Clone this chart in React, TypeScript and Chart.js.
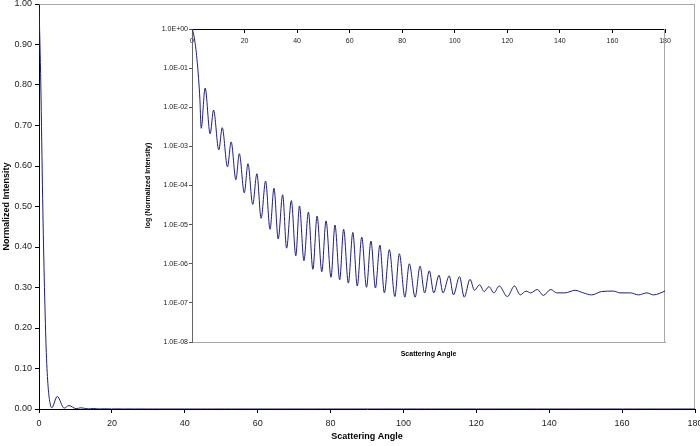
import React, { useEffect, useRef } from "react";
import { Chart, registerables } from "chart.js";

Chart.register(...registerables);

// Scattering angle (degrees)
const angles = [
  0, 0.5, 1.0, 1.5, 2.0, 2.5, 3.0, 3.5,
  5.0, 6.9, 8.2, 10.2, 11.5, 13.5, 14.9, 16.7, 18.0, 19.9,
  21.3, 23.1, 24.7, 26.3, 28.0, 29.7, 31.2, 32.8, 34.5, 36.0,
  37.8, 39.5, 40.9, 42.6, 44.3, 46.0, 47.6, 49.4, 51.0, 52.9,
  54.4, 56.2, 57.7, 59.5, 61.2, 62.9, 64.6, 66.4, 68.1, 69.8,
  71.5, 73.2, 75.1, 77.2, 78.9, 81.0, 82.7, 84.9, 86.8, 88.5,
  90.3, 92.0, 94.0, 95.5, 97.9, 99.5, 101.8, 103.6, 105.8, 107.5,
  109.4, 111.2, 113.0, 114.9, 116.9, 120.0, 122.7, 124.9, 127.1, 128.9,
  131.4, 133.7, 136.5, 138.8, 141.9, 145.8, 148.9, 152.1, 155.9, 160.4,
  162.9, 166.8, 169.9, 173.1, 175.6, 180,
];

// Normalized intensity at each angle
const intensity = [
  1.0, 0.8, 0.52, 0.3, 0.14, 0.055, 0.016, 0.0029,
  0.031, 0.0021, 0.0085, 0.00081, 0.003, 0.0003, 0.0013, 0.00014, 0.00065, 6.5e-5,
  3.6e-4, 3.3e-5, 2.0e-4, 1.45e-5, 1.3e-4, 7.6e-6, 8.5e-5, 4.3e-6, 5.8e-5, 2.5e-6,
  4.1e-5, 1.6e-6, 3.0e-5, 1.2e-6, 2.1e-5, 7.2e-7, 1.65e-5, 6.3e-7, 1.25e-5, 4.5e-7,
  9.8e-6, 3.9e-7, 7.6e-6, 3.2e-7, 6.3e-6, 2.7e-7, 4.8e-6, 2.5e-7, 3.8e-6, 2.4e-7,
  3.0e-6, 1.8e-7, 2.3e-6, 1.45e-7, 1.8e-6, 1.4e-7, 1.0e-6, 1.4e-7, 8.7e-7, 1.8e-7,
  6.6e-7, 1.8e-7, 5.1e-7, 1.8e-7, 4.9e-7, 1.6e-7, 4.7e-7, 1.4e-7, 4.0e-7, 2.1e-7,
  2.9e-7, 1.95e-7, 2.6e-7, 1.8e-7, 2.7e-7, 1.45e-7, 2.7e-7, 1.6e-7, 2.0e-7, 1.8e-7,
  2.2e-7, 1.55e-7, 2.2e-7, 1.8e-7, 1.8e-7, 2.1e-7, 1.8e-7, 1.6e-7, 1.95e-7, 2.0e-7,
  1.8e-7, 1.8e-7, 1.6e-7, 1.8e-7, 1.6e-7, 2.0e-7,
];

const mainYTickLabels = [
  "0.00", "0.10", "0.20", "0.30", "0.40", "0.50",
  "0.60", "0.70", "0.80", "0.90", "1.00",
];

const insetYTickValues = [1e-8, 1e-7, 1e-6, 1e-5, 1e-4, 1e-3, 1e-2, 1e-1, 1];
const insetYTickLabels = [
  "1.0E-08", "1.0E-07", "1.0E-06", "1.0E-05", "1.0E-04",
  "1.0E-03", "1.0E-02", "1.0E-01", "1.0E+00",
];

const FONT = "'Liberation Sans', Arial, sans-serif";
const NARROW = "'Liberation Sans Narrow', 'Arial Narrow', 'Liberation Sans', Arial, sans-serif";
const LINE = "#1e1e7a";
const TEXT = "#222";

const framePlugin = {
  id: "frame",
  beforeDatasetsDraw(chart: any, _args: any, opts: any) {
    const { ctx, chartArea } = chart;
    const { left, top, right, bottom } = chartArea;
    ctx.save();
    ctx.strokeStyle = opts.color || "#a6a6a6";
    ctx.lineWidth = 1;
    ctx.beginPath();
    if (opts.top) {
      ctx.moveTo(left, Math.round(top) + 0.5);
      ctx.lineTo(right, Math.round(top) + 0.5);
    }
    if (opts.right) {
      ctx.moveTo(Math.round(right) - 0.5, top);
      ctx.lineTo(Math.round(right) - 0.5, bottom);
    }
    ctx.stroke();
    ctx.restore();
  },
};

export default function App() {
  const mainRef = useRef<HTMLCanvasElement>(null);
  const insetRef = useRef<HTMLCanvasElement>(null);

  useEffect(() => {
    const mainPoints = angles.map((a, i) => ({ x: a, y: intensity[i] }));
    const insetPoints = angles.map((a, i) => ({ x: a, y: intensity[i] }));

    const main = new Chart(mainRef.current as HTMLCanvasElement, {
      type: "line",
      data: {
        datasets: [
          {
            data: mainPoints,
            borderColor: LINE,
            borderWidth: 1,
            pointRadius: 0,
            fill: false,
            cubicInterpolationMode: "monotone",
          },
        ],
      },
      plugins: [framePlugin],
      options: {
        responsive: false,
        animation: false,
        devicePixelRatio: 1,
        layout: { padding: { top: 4, right: 5, left: 0, bottom: 0 } },
        plugins: {
          legend: { display: false },
          tooltip: { enabled: false },
          frame: { top: true, right: true, color: "#a8a8a8" },
        } as any,
        scales: {
          x: {
            type: "linear",
            min: 0,
            max: 180,
            ticks: {
              stepSize: 20,
              font: { family: FONT, size: 9 },
              color: TEXT,
              padding: 5,
              maxRotation: 0,
              autoSkip: false,
            },
            grid: { drawOnChartArea: false, drawTicks: true, tickLength: 4, tickColor: "#000" },
            border: { color: "#000", width: 1 },
            title: {
              display: true,
              text: "Scattering Angle",
              font: { family: FONT, size: 9, weight: "bold" },
              color: "#000",
              padding: { top: 0, bottom: 4 },
            },
            afterFit: (s: any) => {
              s.height = 37;
              s.paddingLeft = 0;
              s.paddingRight = 0;
            },
          },
          y: {
            type: "linear",
            min: 0,
            max: 1,
            ticks: {
              stepSize: 0.1,
              font: { family: FONT, size: 9 },
              color: TEXT,
              padding: 3,
              callback: (_v: any, i: number) => mainYTickLabels[i],
            },
            grid: { drawOnChartArea: false, drawTicks: true, tickLength: 4, tickColor: "#000" },
            border: { color: "#000", width: 1 },
            title: {
              display: true,
              text: "Normalized Intensity",
              font: { family: FONT, size: 9, weight: "bold" },
              color: "#000",
              padding: { top: 1, bottom: 0 },
            },
            afterFit: (s: any) => {
              s.width = 39;
              s.paddingTop = 0;
              s.paddingBottom = 0;
            },
          },
        },
      } as any,
    });

    const inset = new Chart(insetRef.current as HTMLCanvasElement, {
      type: "line",
      data: {
        datasets: [
          {
            data: insetPoints,
            xAxisID: "x",
            yAxisID: "y",
            borderColor: LINE,
            borderWidth: 1,
            pointRadius: 0,
            fill: false,
            cubicInterpolationMode: "monotone",
          },
        ],
      },
      plugins: [framePlugin],
      options: {
        responsive: false,
        animation: false,
        devicePixelRatio: 1,
        layout: { padding: { top: 7, right: 15, left: 0, bottom: 0 } },
        plugins: {
          legend: { display: false },
          tooltip: { enabled: false },
          frame: { right: true, color: "#a8a8a8" },
        } as any,
        scales: {
          x: {
            type: "linear",
            position: "bottom",
            min: 0,
            max: 180,
            ticks: { display: false },
            grid: { drawOnChartArea: false, drawTicks: false },
            border: { color: "#a8a8a8", width: 1 },
            title: {
              display: true,
              text: "Scattering Angle",
              font: { family: FONT, size: 7, weight: "bold" },
              color: "#000",
              padding: { top: 0, bottom: 9 },
            },
            afterFit: (s: any) => {
              s.height = 25;
              s.paddingLeft = 0;
              s.paddingRight = 0;
            },
          },
          xTop: {
            type: "linear",
            axis: "x",
            position: { y: 1 },
            min: 0,
            max: 180,
            ticks: {
              stepSize: 20,
              font: { family: NARROW, size: 7 },
              color: TEXT,
              padding: 5,
              maxRotation: 0,
              autoSkip: false,
            },
            grid: { drawOnChartArea: false, drawTicks: true, tickLength: 3, tickColor: "#000" },
            border: { color: "#000", width: 1 },
            afterFit: (s: any) => {
              s.paddingLeft = 0;
              s.paddingRight = 0;
            },
          },
          y: {
            type: "logarithmic",
            position: "left",
            min: 1e-8,
            max: 1,
            afterBuildTicks: (s: any) => {
              s.ticks = insetYTickValues.map((v) => ({ value: v }));
            },
            ticks: {
              font: { family: NARROW, size: 7 },
              color: TEXT,
              padding: 1,
              autoSkip: false,
              callback: (_v: any, i: number) => insetYTickLabels[i],
            },
            grid: { drawOnChartArea: false, drawTicks: true, tickLength: 3, tickColor: "#555" },
            border: { color: "#666", width: 1 },
            title: {
              display: true,
              text: "log (Normalized Intensity)",
              font: { family: FONT, size: 7, weight: "bold" },
              color: "#000",
              padding: { top: 14, bottom: 0 },
            },
            afterFit: (s: any) => {
              s.width = 62;
              s.paddingTop = 0;
              s.paddingBottom = 0;
            },
          },
        },
      } as any,
    });

    return () => {
      main.destroy();
      inset.destroy();
    };
  }, []);

  return (
    <div
      style={{
        position: "absolute",
        left: 0,
        top: 0,
        width: 700,
        height: 446,
        background: "#fff",
        overflow: "hidden",
      }}
    >
      <canvas
        ref={mainRef}
        width={700}
        height={446}
        style={{ position: "absolute", left: 0, top: 0, width: 700, height: 446 }}
      />
      <canvas
        ref={insetRef}
        width={550}
        height={345}
        style={{ position: "absolute", left: 130, top: 22, width: 550, height: 345 }}
      />
    </div>
  );
}
